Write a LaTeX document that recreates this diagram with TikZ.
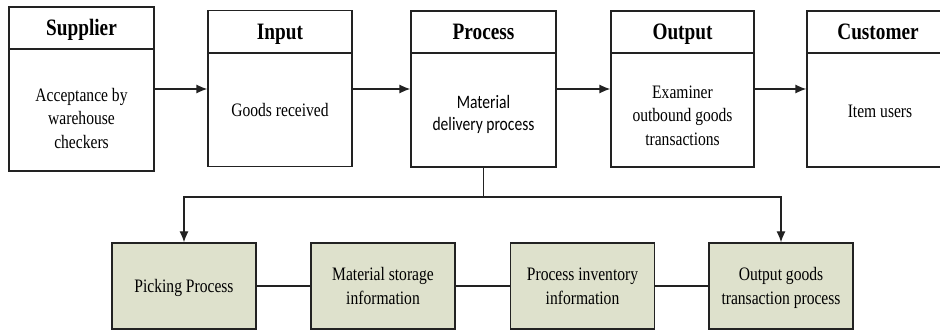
\documentclass[tikz,border=0pt]{standalone}
\usepackage{fontspec}
\usepackage{graphicx}
\setmainfont{Liberation Serif}
\newfontfamily\calfont{Carlito}
\usetikzlibrary{arrows.meta}
\definecolor{boxfill}{HTML}{DEE1CC}
\definecolor{lncol}{HTML}{222222}
\newcommand{\sqz}[1]{\scalebox{0.82}[1]{\begin{tabular}{@{}c@{}}#1\end{tabular}}}
\tikzset{
  box/.style={draw=lncol,line width=1.3pt,rectangle,inner sep=0pt},
  topbox/.style={box,minimum width=#1,minimum height=156pt},
  lowbox/.style={box,fill=boxfill,minimum width=144pt,minimum height=86pt},
  ttl/.style={font=\fontsize{23.5}{26}\selectfont\bfseries,inner sep=0pt},
  txt/.style={font=\fontsize{19}{23.5}\selectfont,align=center,inner sep=0pt},
  conn/.style={draw=lncol,line width=1.3pt},
  arr/.style={conn,-{Latex[length=11pt,width=9pt]}}
}
\begin{document}
\begin{tikzpicture}[x=1pt,y=-1pt]
\clip (0,0) rectangle (940,331);
\fill[white] (0,0) rectangle (940,331);
% top boxes
\node[box,minimum width=145pt,minimum height=164pt] (sup) at (81.5,89) {};
\node[topbox=144pt] (inp) at (280,88.5) {};
\node[topbox=145pt] (proc) at (483.5,89) {};
\node[topbox=143pt] (outp) at (682.5,89) {};
\node[topbox=160pt] (cust) at (887,89) {};
% header dividers
\draw[conn] (sup.west |- 0,49) -- (sup.east |- 0,49);
\draw[conn] (inp.west |- 0,53) -- (inp.east |- 0,53);
\draw[conn] (proc.west |- 0,53) -- (proc.east |- 0,53);
\draw[conn] (outp.west |- 0,53) -- (outp.east |- 0,53);
\draw[conn] (cust.west |- 0,53) -- (cust.east |- 0,53);
% titles
\node[ttl] (tsup) at (81.5,30) {\sqz{Supplier}};
\node[ttl] (tinp) at (280,34) {\sqz{Input}};
\node[ttl] (tproc) at (483.5,34) {\sqz{Process}};
\node[ttl] (toutp) at (682.5,34) {\sqz{Output}};
\node[ttl] (tcust) at (878,34) {\sqz{Customer}};
% bodies
\node[txt] (bsup) at (81.5,120) {\sqz{Acceptance by\\warehouse\\checkers}};
\node[txt] (binp) at (280,112) {\sqz{Goods received}};
\node[txt,font=\calfont\fontsize{19}{22.5}\selectfont] (bproc) at (483.5,115) {\sqz{Material\\delivery process}};
\node[txt] (boutp) at (682.5,117) {\sqz{Examiner\\outbound goods\\transactions}};
\node[txt] (bcust) at (880,113) {\sqz{Item users}};
% top arrows
\draw[arr] (sup.east |- 0,89) -- (inp.west |- 0,89);
\draw[arr] (inp.east |- 0,89) -- (proc.west |- 0,89);
\draw[arr] (proc.east |- 0,89) -- (outp.west |- 0,89);
\draw[arr] (outp.east |- 0,89) -- (cust.west |- 0,89);
% bottom boxes
\node[lowbox] (pick) at (184,286) {};
\node[lowbox] (mat) at (383,286) {};
\node[lowbox] (inv) at (582.5,286) {};
\node[lowbox] (outg) at (781,286) {};
\node[txt] (tpick) at (184,288) {\sqz{Picking Process}};
\node[txt] (tmat) at (383,288) {\sqz{Material storage\\information}};
\node[txt] (tinv) at (582.5,288) {\sqz{Process inventory\\information}};
\node[txt] (toutg) at (781,288) {\sqz{Output goods\\transaction process}};
% bottom connectors
\draw[conn] (pick) -- (mat);
\draw[conn] (mat) -- (inv);
\draw[conn] (inv) -- (outg);
\coordinate (j) at (483.5,197);
\draw[conn] (proc.south) -- (j);
\draw[arr] (j) -| (pick.north);
\draw[arr] (j) -| (outg.north);
\end{tikzpicture}
\end{document}
